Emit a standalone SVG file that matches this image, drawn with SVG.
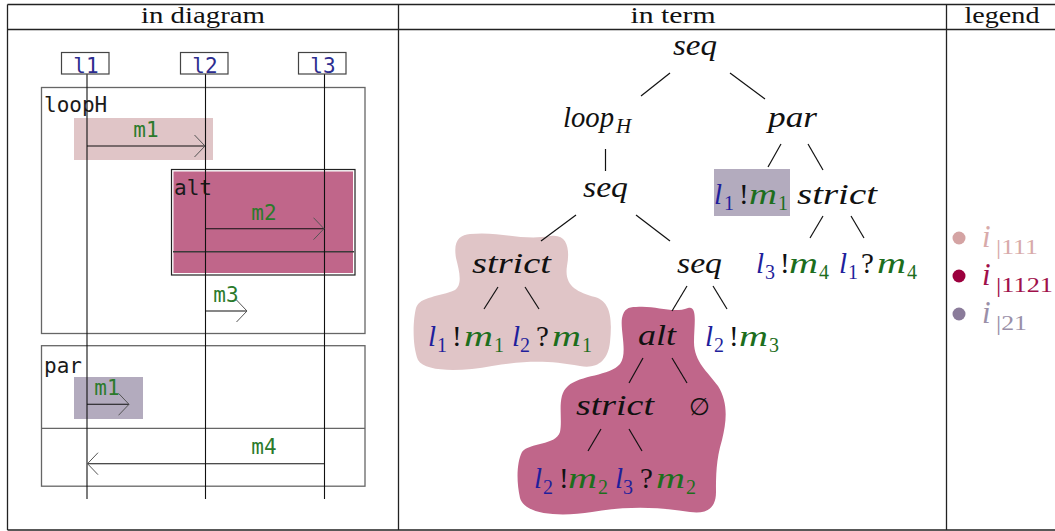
<svg xmlns="http://www.w3.org/2000/svg" width="1055" height="531" viewBox="0 0 1055 531">
  <style>
    .grid { stroke: #222; stroke-width: 1.3; fill: none; }
    .hdr { font-size: 23px; fill: #111; text-anchor: middle; }
    .frame { stroke: #666; stroke-width: 1.3; fill: none; }
    .life { stroke: #111; stroke-width: 1.1; }
    .head { fill: #fff; stroke: #444; stroke-width: 1.2; }
    .mono { font-family: "DejaVu Sans Mono", monospace; font-size: 21px; }
    .lname { fill: #2d2d8f; text-anchor: middle; }
    .fname { fill: #1a1a1a; }
    .msg { fill: #2b7a2b; text-anchor: middle; }
    .arrow { stroke: #111; stroke-width: 1.1; fill: none; marker-end: url(#open); }
    .edge { stroke: #111; stroke-width: 1.2; }
    .mi { font-style: italic; font-size: 29px; fill: #111; }
    .rm { font-style: normal; }
    .sub { font-size: 20px; font-style: normal; }
    .b { fill: #1f1f9c; }
    .g { fill: #1d6e1d; }
    .hl-pink { fill: #e0c5c7; }
    .hl-mag { fill: #c0668a; }
    .hl-pur { fill: #b3abbe; }
  </style>
  <defs>
    <marker id="open" markerUnits="userSpaceOnUse" viewBox="0 0 12 24" refX="11" refY="11.5" markerWidth="12" markerHeight="24" orient="auto">
      <path d="M0.5,0.5 L11,11.5 L0.5,22.5" fill="none" stroke="#555" stroke-width="1"/>
    </marker>
  </defs>

  <rect width="1055" height="531" fill="#fff"/>

  <!-- table grid -->
  <g id="table" font-family="Liberation Serif, Times New Roman, serif">
    <path class="grid" d="M7.5,4.5 H1056 M7.5,29.5 H1056 M7.5,530 H1056 M7.5,4.5 V530 M398.5,4.5 V530 M946.5,4.5 V530"/>
    <text class="hdr" x="203" y="23" textLength="124" lengthAdjust="spacingAndGlyphs">in diagram</text>
    <text class="hdr" x="673" y="23" textLength="85" lengthAdjust="spacingAndGlyphs">in term</text>
    <text class="hdr" x="1002" y="23" textLength="75" lengthAdjust="spacingAndGlyphs">legend</text>
  </g>

  <!-- sequence diagram: combined fragments -->
  <g id="frame-loopH">
    <rect class="frame" x="41.5" y="87.5" width="323.5" height="246"/>
    <rect class="hl-pink" x="74" y="118" width="139" height="42"/>
    <text class="mono fname" x="44" y="112">loopH</text>
  </g>
  <g id="frame-alt">
    <rect x="171.5" y="169.5" width="183.5" height="105.5" fill="#fff" stroke="#222" stroke-width="1.2"/>
    <rect class="hl-mag" x="173.5" y="171.5" width="179.5" height="101.5"/>
    <line x1="173" y1="251.8" x2="354" y2="251.8" stroke="#3a3a3a" stroke-width="1.4"/>
    <text class="mono fname" x="174" y="195">alt</text>
  </g>
  <g id="frame-par">
    <rect class="frame" x="41.5" y="345.7" width="323.5" height="140.5"/>
    <line class="frame" x1="41.5" y1="428.3" x2="365" y2="428.3"/>
    <rect class="hl-pur" x="74" y="377" width="69" height="42"/>
    <text class="mono fname" x="44" y="373">par</text>
  </g>

  <!-- lifelines -->
  <g id="lifeline-l1">
    <line class="life" x1="87" y1="74" x2="87" y2="499"/>
    <rect class="head" x="61.5" y="52.5" width="47.5" height="21.5"/>
    <text class="mono lname" x="86" y="72.5">l1</text>
  </g>
  <g id="lifeline-l2">
    <line class="life" x1="205.5" y1="74" x2="205.5" y2="499"/>
    <rect class="head" x="180.5" y="52.5" width="47.5" height="21.5"/>
    <text class="mono lname" x="205" y="72.5">l2</text>
  </g>
  <g id="lifeline-l3">
    <line class="life" x1="324.5" y1="74" x2="324.5" y2="499"/>
    <rect class="head" x="298.5" y="52.5" width="47.5" height="21.5"/>
    <text class="mono lname" x="323" y="72.5">l3</text>
  </g>

  <!-- term tree highlights -->
  <g id="regions">
    <path id="region-111" class="hl-pink" d="M470,234 C500,231 522,241 550,236 C568,233 570,250 567,266 C564,285 576,292 595,297 C612,302 612,322 610,342 C608,362 596,369 580,366 C550,361 530,360 492,366 C460,372 425,372 418,360 C412,345 413,320 416,308 C420,296 440,297 455,290 C463,284 459,270 456,258 C453,240 460,235 470,234 Z"/>
    <path id="region-1121" class="hl-mag" d="M636,307 C656,305 672,314 688,308 C698,305 694,325 694,342 C694,362 708,372 718,386 C728,402 727,420 722,440 C716,460 716,476 716,492 C716,510 705,514 690,512 C652,506 622,507 592,512 C560,517 525,515 520,498 C516,480 517,462 522,452 C530,442 555,446 560,432 C563,418 556,396 568,386 C580,375 610,376 620,364 C628,354 620,330 622,318 C624,309 628,307 636,307 Z"/>
    <rect id="region-21" class="hl-pur" x="714" y="169" width="76" height="47"/>
  </g>

  <!-- connectors: messages and tree edges -->
  <g id="connectors">
    <g id="messages">
      <line class="arrow" x1="87" y1="146" x2="205" y2="146"/>
      <line class="arrow" x1="205.5" y1="228.7" x2="324" y2="228.7"/>
      <line class="arrow" x1="205.5" y1="311" x2="247" y2="311"/>
      <line class="arrow" x1="87" y1="404.3" x2="129" y2="404.3"/>
      <line class="arrow" x1="324.5" y1="463.7" x2="87.5" y2="463.7"/>
    </g>
    <g id="edges">
      <line class="edge" x1="670" y1="73" x2="641" y2="96"/>
      <line class="edge" x1="730" y1="73" x2="765" y2="99"/>
      <line class="edge" x1="605.5" y1="149" x2="605.5" y2="171"/>
      <line class="edge" x1="781" y1="144" x2="768" y2="167"/>
      <line class="edge" x1="808" y1="144" x2="823" y2="170"/>
      <line class="edge" x1="823" y1="216" x2="810" y2="238"/>
      <line class="edge" x1="851" y1="216" x2="864" y2="238"/>
      <line class="edge" x1="576" y1="215" x2="541" y2="241"/>
      <line class="edge" x1="636" y1="215" x2="670" y2="241"/>
      <line class="edge" x1="498" y1="287" x2="484" y2="309"/>
      <line class="edge" x1="525" y1="287" x2="539" y2="309"/>
      <line class="edge" x1="687" y1="286" x2="672" y2="311"/>
      <line class="edge" x1="713" y1="286" x2="727" y2="309"/>
      <line class="edge" x1="643" y1="358" x2="629" y2="383"/>
      <line class="edge" x1="672" y1="358" x2="687" y2="383"/>
      <line class="edge" x1="601" y1="429" x2="588" y2="451"/>
      <line class="edge" x1="629" y1="429" x2="642" y2="451"/>
    </g>
  </g>

  <!-- message labels -->
  <g id="message-labels">
    <text class="mono msg" x="146" y="137">m1</text>
    <text class="mono msg" x="264" y="220">m2</text>
    <text class="mono msg" x="226" y="302">m3</text>
    <text class="mono msg" x="107" y="395">m1</text>
    <text class="mono msg" x="264" y="454">m4</text>
  </g>

  <!-- term tree nodes -->
  <g id="tree" font-family="Liberation Serif, Times New Roman, serif">
  <g id="node-seq-root"><text class="mi" x="673" y="55" textLength="44" lengthAdjust="spacingAndGlyphs">seq</text></g>
  <g id="node-loopH"><text class="mi" y="127"><tspan x="563" textLength="51" lengthAdjust="spacingAndGlyphs">loop</tspan><tspan x="616" dy="6" font-size="21">H</tspan></text></g>
  <g id="node-par"><text class="mi" x="768" y="127" textLength="49" lengthAdjust="spacingAndGlyphs">par</text></g>
  <g id="node-seq-loop"><text class="mi" x="583" y="197" textLength="45" lengthAdjust="spacingAndGlyphs">seq</text></g>
  <g id="node-l1-send-m1-par">
    <text class="mi" y="204"><tspan class="b" x="714">l</tspan><tspan class="b sub" x="724" dy="6">1</tspan><tspan class="rm" x="739" dy="-6">!</tspan><tspan class="g" x="749" textLength="28" lengthAdjust="spacingAndGlyphs">m</tspan><tspan class="g sub" x="778" dy="6">1</tspan></text>
  </g>
  <g id="node-strict-par"><text class="mi" x="797" y="204" textLength="80" lengthAdjust="spacingAndGlyphs">strict</text></g>
  <g id="node-l3-send-m4">
    <text class="mi" y="273"><tspan class="b" x="756">l</tspan><tspan class="b sub" x="765" dy="6">3</tspan><tspan class="rm" x="780" dy="-6">!</tspan><tspan class="g" x="789" textLength="29" lengthAdjust="spacingAndGlyphs">m</tspan><tspan class="g sub" x="819" dy="6">4</tspan></text>
  </g>
  <g id="node-l1-recv-m4">
    <text class="mi" y="273"><tspan class="b" x="839">l</tspan><tspan class="b sub" x="848" dy="6">1</tspan><tspan class="rm" x="861" dy="-6">?</tspan><tspan class="g" x="877" textLength="29" lengthAdjust="spacingAndGlyphs">m</tspan><tspan class="g sub" x="907" dy="6">4</tspan></text>
  </g>
  <g id="node-strict-loop"><text class="mi" x="472" y="273" textLength="79" lengthAdjust="spacingAndGlyphs">strict</text></g>
  <g id="node-seq-inner"><text class="mi" x="677" y="273" textLength="45" lengthAdjust="spacingAndGlyphs">seq</text></g>
  <g id="node-l1-send-m1">
    <text class="mi" y="346"><tspan class="b" x="428">l</tspan><tspan class="b sub" x="437" dy="6">1</tspan><tspan class="rm" x="452" dy="-6">!</tspan><tspan class="g" x="464" textLength="29" lengthAdjust="spacingAndGlyphs">m</tspan><tspan class="g sub" x="494" dy="6">1</tspan></text>
  </g>
  <g id="node-l2-recv-m1">
    <text class="mi" y="346"><tspan class="b" x="512">l</tspan><tspan class="b sub" x="520" dy="6">2</tspan><tspan class="rm" x="536" dy="-6">?</tspan><tspan class="g" x="552" textLength="29" lengthAdjust="spacingAndGlyphs">m</tspan><tspan class="g sub" x="582" dy="6">1</tspan></text>
  </g>
  <g id="node-alt"><text class="mi" x="638" y="345" textLength="38" lengthAdjust="spacingAndGlyphs">alt</text></g>
  <g id="node-l2-send-m3">
    <text class="mi" y="346"><tspan class="b" x="705">l</tspan><tspan class="b sub" x="714" dy="6">2</tspan><tspan class="rm" x="729" dy="-6">!</tspan><tspan class="g" x="739" textLength="29" lengthAdjust="spacingAndGlyphs">m</tspan><tspan class="g sub" x="769" dy="6">3</tspan></text>
  </g>
  <g id="node-strict-alt"><text class="mi" x="576" y="415" textLength="78" lengthAdjust="spacingAndGlyphs">strict</text></g>
  <g id="node-empty"><text x="699" y="415" text-anchor="middle" font-family="DejaVu Serif, serif" font-size="24" fill="#111">∅</text></g>
  <g id="node-l2-send-m2">
    <text class="mi" y="488"><tspan class="b" x="534">l</tspan><tspan class="b sub" x="543" dy="6">2</tspan><tspan class="rm" x="559" dy="-6">!</tspan><tspan class="g" x="568" textLength="29" lengthAdjust="spacingAndGlyphs">m</tspan><tspan class="g sub" x="598" dy="6">2</tspan></text>
  </g>
  <g id="node-l3-recv-m2">
    <text class="mi" y="488"><tspan class="b" x="615">l</tspan><tspan class="b sub" x="623" dy="6">3</tspan><tspan class="rm" x="640" dy="-6">?</tspan><tspan class="g" x="656" textLength="29" lengthAdjust="spacingAndGlyphs">m</tspan><tspan class="g sub" x="686" dy="6">2</tspan></text>
  </g>
  </g>

  <!-- legend -->
  <g id="legend" font-family="Liberation Serif, Times New Roman, serif">
    <g id="legend-111">
      <circle cx="959" cy="238" r="6.5" fill="#d4a3a3"/>
      <text class="mi" y="247" style="fill:#d8aaaa"><tspan x="982" font-size="31">i</tspan><tspan class="sub" x="996" dy="7" font-size="25" textLength="42" lengthAdjust="spacingAndGlyphs">|111</tspan></text>
    </g>
    <g id="legend-1121">
      <circle cx="959" cy="276" r="6.5" fill="#9c003e"/>
      <text class="mi" y="285" style="fill:#a0104a"><tspan x="982" font-size="31">i</tspan><tspan class="sub" x="996" dy="7" font-size="25" textLength="57" lengthAdjust="spacingAndGlyphs">|1121</tspan></text>
    </g>
    <g id="legend-21">
      <circle cx="959" cy="314" r="6.5" fill="#8a7b9a"/>
      <text class="mi" y="323" style="fill:#9a8fa8"><tspan x="982" font-size="31">i</tspan><tspan class="sub" x="996" dy="7" font-size="25" textLength="31" lengthAdjust="spacingAndGlyphs">|21</tspan></text>
    </g>
  </g>
</svg>
